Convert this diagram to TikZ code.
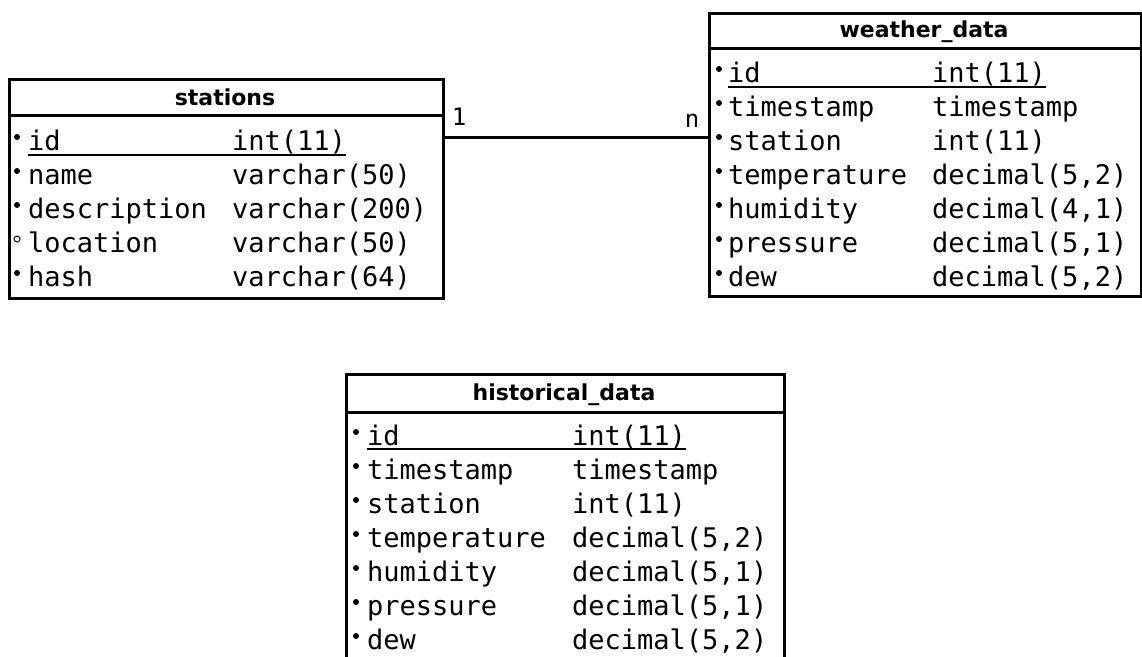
\documentclass[tikz,border=0pt]{standalone}
\usepackage{fontspec}
\newfontfamily\monofam{DejaVu Sans Mono}
\newfontfamily\sansfam{DejaVu Sans}
\begin{document}
\begin{tikzpicture}[x=1pt, y=-1pt,
    tbl/.style={draw, line width=3pt, inner sep=0pt, anchor=north west},
    sep/.style={line width=3pt},
    ttl/.style={font={\sansfam\bfseries\fontsize{22pt}{24pt}\selectfont}, anchor=base, inner sep=0pt},
    fld/.style={font={\monofam\fontsize{27pt}{30pt}\selectfont}, anchor=base west, inner sep=0pt},
    key/.style={fill, circle, inner sep=0pt, minimum size=6pt},
    opt/.style={draw, circle, line width=1pt, inner sep=0pt, minimum size=6pt},
    ul/.style={line width=1.5pt},
    rel/.style={line width=3pt},
    card/.style={font={\monofam\fontsize{24pt}{26pt}\selectfont}, anchor=base, inner sep=0pt}
  ]
    \useasboundingbox (0,0) rectangle (1142,656);

    \node[tbl, minimum width=434pt, minimum height=219pt] (stations) at (8,78) {};
    \draw[sep] (stations.west |- 0,115) -- (stations.east |- 0,115);
    \node[ttl] (stations-ttl) at (225,105) {stations};
    \foreach \f/\t [count=\i] in {id/int(11), name/varchar(50), description/varchar(200),
        location/varchar(50), hash/varchar(64)} {
      \node[fld] (st-f\i) at (28,116+34*\i) {\f};
      \node[fld] (st-t\i) at (232,116+34*\i) {\t};
    }
    \foreach \i in {1,2,3,5}
      \node[key] (st-k\i) at (17,103+34*\i) {};
    \node[opt] (st-k4) at (17,239) {};
    \draw[ul] ([yshift=-5pt]st-f1.base west) -- ([yshift=-5pt]st-t1.base east);

    \node[tbl, minimum width=432pt, minimum height=283pt] (weather) at (708,12) {};
    \draw[sep] (weather.west |- 0,48) -- (weather.east |- 0,48);
    \node[ttl] (weather-ttl) at (924,37) {weather\_data};
    \foreach \f/\t [count=\i] in {id/int(11), timestamp/timestamp, station/int(11),
        temperature/{decimal(5,2)}, humidity/{decimal(4,1)}, pressure/{decimal(5,1)},
        dew/{decimal(5,2)}} {
      \node[fld] (wd-f\i) at (728,48+34*\i) {\f};
      \node[fld] (wd-t\i) at (932,48+34*\i) {\t};
      \node[key] (wd-k\i) at (719,35+34*\i) {};
    }
    \draw[ul] ([yshift=-5pt]wd-f1.base west) -- ([yshift=-5pt]wd-t1.base east);

    \node[tbl, minimum width=438pt, minimum height=292pt] (historical) at (345,373) {};
    \draw[sep] (historical.west |- 0,412) -- (historical.east |- 0,412);
    \node[ttl] (historical-ttl) at (564,400) {historical\_data};
    \foreach \f/\t [count=\i] in {id/int(11), timestamp/timestamp, station/int(11),
        temperature/{decimal(5,2)}, humidity/{decimal(5,1)}, pressure/{decimal(5,1)},
        dew/{decimal(5,2)}} {
      \node[fld] (hd-f\i) at (367,411+34*\i) {\f};
      \node[fld] (hd-t\i) at (572,411+34*\i) {\t};
      \node[key] (hd-k\i) at (356,398+34*\i) {};
    }
    \draw[ul] ([yshift=-4pt]hd-f1.base west) -- ([yshift=-4pt]hd-t1.base east);

    \coordinate (link) at (0,137);
    \draw[rel] (stations.east |- link) -- (weather.west |- link);
    \node[card] (one) at (459,125) {1};
    \node[card] (many) at (692,127) {n};
  \end{tikzpicture}
\end{document}
